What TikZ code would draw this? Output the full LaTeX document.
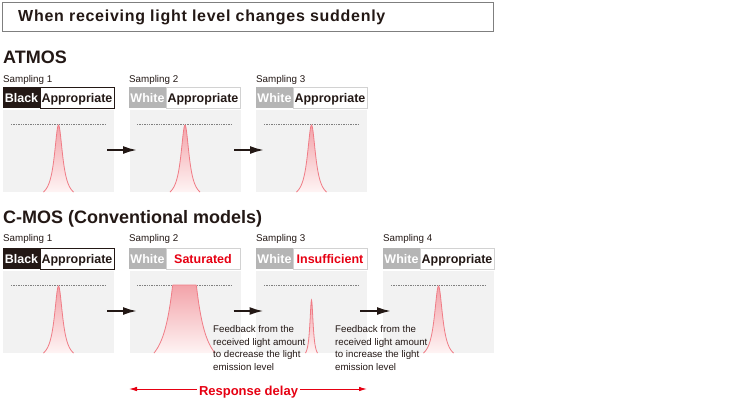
\documentclass[tikz,border=0pt]{standalone}
\usepackage{fontspec}
\setmainfont{Liberation Sans}
\usetikzlibrary{arrows.meta}
\usetikzlibrary{positioning}

\definecolor{ink}{HTML}{231815}
\definecolor{cellgray}{HTML}{B5B5B5}
\definecolor{panelgray}{HTML}{F2F2F2}
\definecolor{rimgray}{HTML}{D2D2D2}
\definecolor{boxgray}{HTML}{7F7F7F}
\definecolor{warnred}{HTML}{E60012}
\definecolor{peakline}{HTML}{F07C86}
\definecolor{peaktop}{HTML}{F3A3A9}
\definecolor{peakbot}{HTML}{FEF4F4}

\begin{document}
\begin{tikzpicture}[x=1pt,y=-1pt]
  \tikzset{cell/.style = {shape=rectangle, inner sep=0pt, minimum height=21pt, text height=12pt, text depth=2pt, font=\fontsize{12.5}{14}\selectfont\bfseries}}
  \tikzset{tag/.style = {cell, minimum width=37pt, text=white}}
  \tikzset{level/.style = {cell, minimum width=74pt, text=ink}}
  \tikzset{panel/.style = {shape=rectangle, fill=panelgray, inner sep=0pt, minimum width=111pt, minimum height=82pt}}
  \tikzset{sampling/.style = {anchor=base west, inner sep=0pt, text=ink, font=\fontsize{9.8}{12}\selectfont}}
  \tikzset{heading/.style = {anchor=base west, inner sep=0pt, text=ink, font=\fontsize{18}{20}\selectfont\bfseries}}
  \tikzset{note/.style = {anchor=north west, inner sep=0pt, align=left, text=ink, font=\fontsize{9.7}{12.5}\selectfont}}
  \tikzset{limit/.style = {draw=gray, line width=0.7pt, dash pattern=on 1.3pt off 1.1pt}}
  \tikzset{glow/.style = {top color=peaktop, bottom color=peakbot}}
  \tikzset{rim/.style = {draw=peakline, line width=0.8pt}}
  \tikzset{edge/.style = {draw=ink, line width=2pt, -{Latex[length=14pt,width=8pt]}}}
  \tikzset{delay/.style = {draw=warnred, line width=0.9pt, -{Latex[length=8pt,width=4.5pt]}}}

  \useasboundingbox (0,0) rectangle (730,397);

  \node[draw=boxgray, line width=0.8pt, minimum width=491pt, minimum height=29pt, inner sep=0pt] (titlebox) at (247.5,16.5) {};
  \node[anchor=base west, inner sep=0pt, text=ink, font=\fontsize{16}{18}\selectfont\bfseries\addfontfeatures{LetterSpace=4.5}] (title) at (18,21.5) {When receiving light level changes suddenly};

  \node[heading] (atmos) at (3,63) {ATMOS};
  \node[heading] (cmos) at (3,223.5) {C-MOS (Conventional models)};

  % ATMOS
  \node[sampling] (asamp1) at (3,82) {Sampling 1};
  \node[sampling] (asamp2) at (129,82) {Sampling 2};
  \node[sampling] (asamp3) at (256,82) {Sampling 3};

  \node[tag, fill=ink] (atag1) at (21.5,97.5) {Black};
  \node[level, draw=ink, line width=0.8pt] (alvl1) at (77,97.5) {Appropriate};
  \node[level, draw=rimgray] (alvl2) at (203,97.5) {Appropriate};
  \node[tag, fill=cellgray] (atag2) at (147.5,97.5) {White};
  \node[level, draw=rimgray] (alvl3) at (330,97.5) {Appropriate};
  \node[tag, fill=cellgray] (atag3) at (274.5,97.5) {White};

  \node[panel] (apanel1) at (58.5,151) {};
  \node[panel] (apanel2) at (185,151) {};
  \node[panel] (apanel3) at (311.5,151) {};

  \foreach \l in {3,129,256}
    \draw[limit] (\l+8,124.7) -- (\l+103,124.7);

  \foreach \c in {58.5,185,311.5} {
    \shade[glow] plot[domain=-15:15, samples=61] ({\c+\x},{192-(74.4*(25/(25+\x*\x))-7.44)}) -- cycle;
    \draw[rim] plot[domain=-15:15, samples=61] ({\c+\x},{192-(74.4*(25/(25+\x*\x))-7.44)});
  }

  \coordinate (a1s) at (107,150);
  \coordinate (a1e) at (137,150);
  \coordinate (a2s) at (234,150);
  \coordinate (a2e) at (264,150);
  \draw[edge] (a1s) to (a1e);
  \draw[edge] (a2s) to (a2e);

  % C-MOS
  \node[sampling] (csamp1) at (3,241.7) {Sampling 1};
  \node[sampling] (csamp2) at (129,241.7) {Sampling 2};
  \node[sampling] (csamp3) at (256,241.7) {Sampling 3};
  \node[sampling] (csamp4) at (383,241.7) {Sampling 4};

  \node[tag, fill=ink] (ctag1) at (21.5,258.5) {Black};
  \node[level, draw=ink, line width=0.8pt] (clvl1) at (77,258.5) {Appropriate};
  \node[level, draw=rimgray, text=warnred] (clvl2) at (203,258.5) {Saturated};
  \node[tag, fill=cellgray] (ctag2) at (147.5,258.5) {White};
  \node[level, draw=rimgray, text=warnred] (clvl3) at (330,258.5) {Insufficient};
  \node[tag, fill=cellgray] (ctag3) at (274.5,258.5) {White};
  \node[level, draw=rimgray] (clvl4) at (457,258.5) {Appropriate};
  \node[tag, fill=cellgray] (ctag4) at (401.5,258.5) {White};

  \node[panel] (cpanel1) at (58.5,312) {};
  \node[panel] (cpanel2) at (185,312) {};
  \node[panel] (cpanel3) at (311.5,312) {};
  \node[panel] (cpanel4) at (438.5,312) {};

  \foreach \l in {3,129,256,383}
    \draw[limit] (\l+8,285) -- (\l+103,285);

  \foreach \c in {58.5,438.5} {
    \shade[glow] plot[domain=-15:15, samples=61] ({\c+\x},{353-(74.4*(25/(25+\x*\x))-7.44)}) -- cycle;
    \draw[rim] plot[domain=-15:15, samples=61] ({\c+\x},{353-(74.4*(25/(25+\x*\x))-7.44)});
  }
  \shade[glow] plot[domain=-30.5:30.5, samples=123] ({184.5+\x},{353-min(68,213*(100/(100+\x*\x))-20.7)}) -- cycle;
  \draw[rim] plot[domain=-30.5:30.5, samples=123] ({184.5+\x},{353-min(68,213*(100/(100+\x*\x))-20.7)});
  \shade[glow] plot[domain=-6:6, samples=49] ({311.5+\x},{353-(59*(4/(4+\x*\x))-6)}) -- cycle;
  \draw[rim] plot[domain=-6:6, samples=49] ({311.5+\x},{353-(59*(4/(4+\x*\x))-6)});

  \coordinate (c1s) at (107,311);
  \coordinate (c1e) at (137,311);
  \coordinate (c2s) at (233.5,311);
  \coordinate (c2e) at (263.5,311);
  \coordinate (c3s) at (360,311);
  \coordinate (c3e) at (391,311);
  \draw[edge] (c1s) to (c1e);
  \draw[edge] (c2s) to (c2e);
  \draw[edge] (c3s) to (c3e);

  \node[note] (fb1) at (213,325.5) {Feedback from the\\received light amount\\to decrease the light\\emission level};
  \node[note] (fb2) at (335,325.5) {Feedback from the\\received light amount\\to increase the light\\emission level};

  \node[anchor=base, inner sep=2pt, text=warnred, font=\fontsize{13}{15}\selectfont\bfseries] (delaytext) at (248.5,395) {Response delay};
  \coordinate (dl) at (129,389);
  \coordinate (dr) at (367,389);
  \draw[delay] (delaytext.west |- dl) -- (dl);
  \draw[delay] (delaytext.east |- dr) -- (dr);
\end{tikzpicture}
\end{document}
